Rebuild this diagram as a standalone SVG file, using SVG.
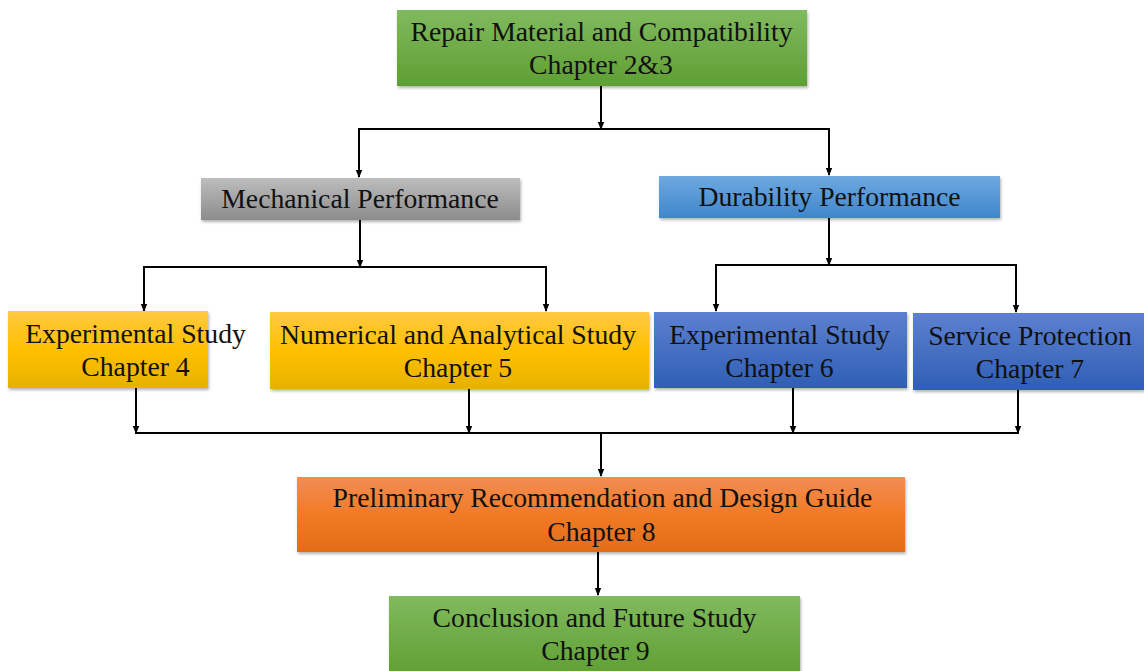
<svg xmlns="http://www.w3.org/2000/svg" width="1144" height="671" viewBox="0 0 1144 671">
  <defs>
    <linearGradient id="gGreen" x1="0" y1="0" x2="0" y2="1">
      <stop offset="0" stop-color="#80ba5e"/>
      <stop offset="1" stop-color="#5f9f33"/>
    </linearGradient>
    <linearGradient id="gGray" x1="0" y1="0" x2="0" y2="1">
      <stop offset="0" stop-color="#bdbdbd"/>
      <stop offset="1" stop-color="#8c8c8c"/>
    </linearGradient>
    <linearGradient id="gSky" x1="0" y1="0" x2="0" y2="1">
      <stop offset="0" stop-color="#6ea9e0"/>
      <stop offset="1" stop-color="#3f86cc"/>
    </linearGradient>
    <linearGradient id="gGold" x1="0" y1="0" x2="0" y2="1">
      <stop offset="0" stop-color="#ffc943"/>
      <stop offset="0.5" stop-color="#ffc000"/>
      <stop offset="1" stop-color="#e6b200"/>
    </linearGradient>
    <linearGradient id="gBlue" x1="0" y1="0" x2="0" y2="1">
      <stop offset="0" stop-color="#5d80d0"/>
      <stop offset="1" stop-color="#2f5fb5"/>
    </linearGradient>
    <linearGradient id="gOrange" x1="0" y1="0" x2="0" y2="1">
      <stop offset="0" stop-color="#f28d54"/>
      <stop offset="0.5" stop-color="#f27a26"/>
      <stop offset="1" stop-color="#e36c18"/>
    </linearGradient>
    <filter id="shadow" x="-5%" y="-10%" width="110%" height="130%">
      <feDropShadow dx="1" dy="2" stdDeviation="1.5" flood-color="#000" flood-opacity="0.3"/>
    </filter>
    <marker id="arrow" markerWidth="8" markerHeight="8" refX="7" refY="4" orient="auto" markerUnits="userSpaceOnUse">
      <path d="M0,0.8 L8,4 L0,7.2 Z" fill="#000"/>
    </marker>
  </defs>
  <style>
    .box { filter: url(#shadow); }
    .lbl { font-family: "Liberation Serif", "Times New Roman", serif; font-size: 27.7px; fill: #111; text-anchor: middle; }
    .wire { fill: none; stroke: #000; stroke-width: 2; }
    .arr { fill: none; stroke: #000; stroke-width: 2; marker-end: url(#arrow); }
  </style>

  <g id="connectors">
    <!-- top node to second tier -->
    <line class="arr" x1="601" y1="86" x2="601" y2="129"/>
    <line class="wire" x1="358" y1="129" x2="830" y2="129"/>
    <line class="arr" x1="359" y1="129" x2="359" y2="177"/>
    <line class="arr" x1="829" y1="129" x2="829" y2="175"/>
    <!-- mechanical branch -->
    <line class="arr" x1="360" y1="220" x2="360" y2="267"/>
    <line class="wire" x1="143" y1="267" x2="547" y2="267"/>
    <line class="arr" x1="144" y1="267" x2="144" y2="311"/>
    <line class="arr" x1="546" y1="267" x2="546" y2="311"/>
    <!-- durability branch -->
    <line class="arr" x1="829" y1="218" x2="829" y2="265"/>
    <line class="wire" x1="715" y1="265" x2="1017" y2="265"/>
    <line class="arr" x1="716" y1="265" x2="716" y2="311"/>
    <line class="arr" x1="1016" y1="265" x2="1016" y2="312"/>
    <!-- chapters 4-7 into chapter 8 -->
    <line class="arr" x1="136" y1="388" x2="136" y2="433"/>
    <line class="arr" x1="469" y1="389" x2="469" y2="433"/>
    <line class="arr" x1="793" y1="388" x2="793" y2="433"/>
    <line class="arr" x1="1018" y1="390" x2="1018" y2="433"/>
    <line class="wire" x1="135" y1="433" x2="1019" y2="433"/>
    <line class="arr" x1="601" y1="433" x2="601" y2="476"/>
    <!-- chapter 8 to chapter 9 -->
    <line class="arr" x1="598" y1="552" x2="598" y2="595"/>
  </g>

  <g id="node-repair">
    <rect class="box" x="397" y="10" width="410" height="76" fill="url(#gGreen)"/>
    <text class="lbl" x="601.5" y="41">Repair Material and Compatibility</text>
    <text class="lbl" x="601" y="74">Chapter 2&amp;3</text>
  </g>

  <g id="node-mechanical">
    <rect class="box" x="201" y="178" width="319" height="42" fill="url(#gGray)"/>
    <text class="lbl" x="360" y="208">Mechanical Performance</text>
  </g>

  <g id="node-durability">
    <rect class="box" x="659" y="176" width="341" height="42" fill="url(#gSky)"/>
    <text class="lbl" x="829.5" y="206">Durability Performance</text>
  </g>

  <g id="node-ch4">
    <rect class="box" x="8" y="311" width="200" height="77" fill="url(#gGold)"/>
    <text class="lbl" x="135.5" y="343">Experimental Study</text>
    <text class="lbl" x="135.5" y="376">Chapter 4</text>
  </g>

  <g id="node-ch5">
    <rect class="box" x="270" y="312" width="379" height="77" fill="url(#gGold)"/>
    <text class="lbl" x="458" y="344">Numerical and Analytical Study</text>
    <text class="lbl" x="458" y="377">Chapter 5</text>
  </g>

  <g id="node-ch6">
    <rect class="box" x="654" y="312" width="253" height="76" fill="url(#gBlue)"/>
    <text class="lbl" x="779.5" y="344">Experimental Study</text>
    <text class="lbl" x="779.5" y="377">Chapter 6</text>
  </g>

  <g id="node-ch7">
    <rect class="box" x="913" y="313" width="231" height="77" fill="url(#gBlue)"/>
    <text class="lbl" x="1030" y="345">Service Protection</text>
    <text class="lbl" x="1030" y="378">Chapter 7</text>
  </g>

  <g id="node-ch8">
    <rect class="box" x="297" y="477" width="608" height="75" fill="url(#gOrange)"/>
    <text class="lbl" x="602.5" y="507">Preliminary Recommendation and Design Guide</text>
    <text class="lbl" x="601.5" y="541">Chapter 8</text>
  </g>

  <g id="node-ch9">
    <rect class="box" x="389" y="596" width="411" height="80" fill="url(#gGreen)"/>
    <text class="lbl" x="594.5" y="627">Conclusion and Future Study</text>
    <text class="lbl" x="595.5" y="660">Chapter 9</text>
  </g>
</svg>
